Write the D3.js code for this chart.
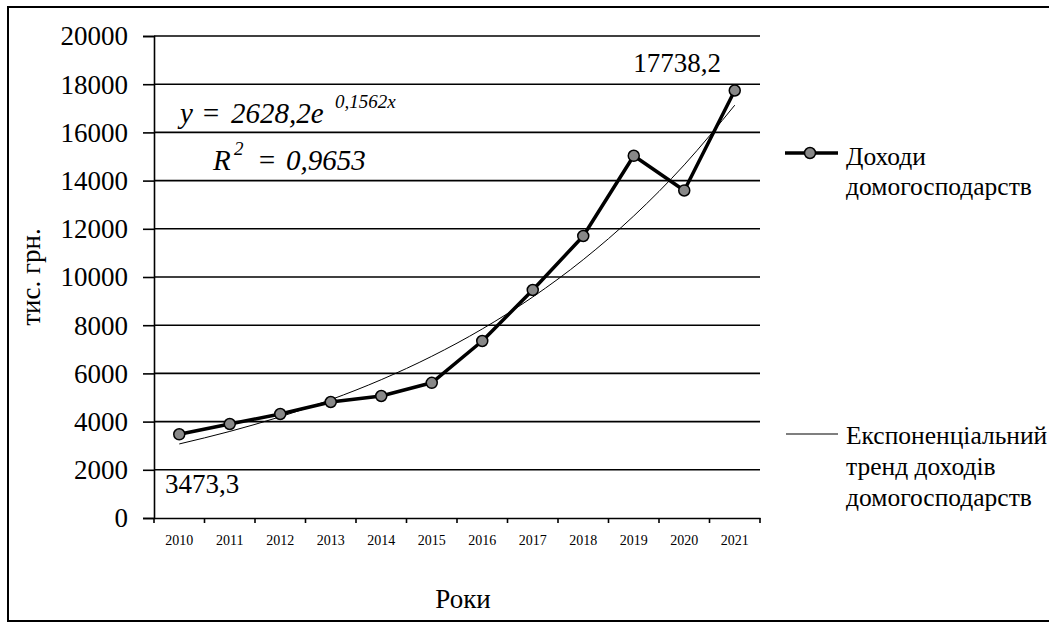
<!DOCTYPE html>
<html>
<head>
<meta charset="utf-8">
<script src="https://cdn.jsdelivr.net/npm/d3@7"></script>
<style>
  body { margin: 0; background: #fff; }
  svg { display: block; }
</style>
</head>
<body>
<svg id="chart" width="1049" height="624" font-family="Liberation Serif"></svg>
<script>
var years = ["2010", "2011", "2012", "2013", "2014", "2015", "2016", "2017", "2018", "2019", "2020", "2021"];
var incomes = [3473.3, 3900, 4315, 4813, 5062, 5610, 7344, 9461, 11701, 15030, 13590, 17738.2];
// exponential trend y = 2628,2e^(0,1562x), values at x = 1..12
var trendValues = [3072.6, 3592.1, 4199.4, 4909.4, 5739.4, 6709.8, 7844.2, 9170.4, 10720.9, 12533.5, 14652.5, 17129.8];
var yTicks = [0, 2000, 4000, 6000, 8000, 10000, 12000, 14000, 16000, 18000, 20000];
var labelled = [0, 11];

var FONT = "Liberation Serif";
var svg = d3.select("#chart");
var mLeft = 154, mRight = 760, mTop = 36, mBottom = 518;
var locale = d3.formatLocale({decimal: ",", thousands: "", grouping: [3], currency: ["", ""]});
var fmt = locale.format(".1f");

var x = d3.scaleBand().domain(years).range([mLeft, mRight]).padding(0);
var y = d3.scaleLinear().domain([0, 20000]).range([mBottom, mTop]);
var cx = function(d, i) { return x(years[i]) + x.bandwidth() / 2; };

function label(sel, px, py, size, str) {
  return sel.append("text").attr("x", px).attr("y", py).attr("font-family", FONT)
    .attr("font-size", size).attr("fill", "#000").text(str);
}

// outer frame
svg.append("rect").attr("x", 8).attr("y", 7).attr("width", 1060).attr("height", 614)
  .attr("fill", "none").attr("stroke", "#000").attr("stroke-width", 2);

// gridlines
svg.append("g").selectAll("line").data(yTicks.slice(1)).enter().append("line")
  .attr("x1", mLeft).attr("x2", mRight)
  .attr("y1", function(d) { return y(d); }).attr("y2", function(d) { return y(d); })
  .attr("stroke", "#000").attr("stroke-width", 1.6);

// y axis
var yAxis = svg.append("g").attr("transform", "translate(" + mLeft + ",0)")
  .call(d3.axisLeft(y).tickValues(yTicks).tickSize(11).tickPadding(15).tickFormat(d3.format("d")));
yAxis.attr("font-family", FONT).attr("font-size", 27);
yAxis.select(".domain").attr("stroke", "#000").attr("stroke-width", 1.6);
yAxis.selectAll(".tick line").attr("stroke", "#000").attr("stroke-width", 1.6);
yAxis.selectAll("text").attr("fill", "#000").attr("dy", "0.33em");

// x axis
var xAxis = svg.append("g").attr("transform", "translate(0," + mBottom + ")")
  .call(d3.axisBottom(x).tickSize(0).tickPadding(17));
xAxis.attr("font-family", FONT).attr("font-size", 14);
xAxis.select(".domain").attr("stroke", "#000").attr("stroke-width", 1.6);
xAxis.selectAll("text").attr("fill", "#000");
svg.append("g").selectAll("line").data(years.concat(["end"])).enter().append("line")
  .attr("x1", function(d, i) { return mLeft + i * x.bandwidth(); })
  .attr("x2", function(d, i) { return mLeft + i * x.bandwidth(); })
  .attr("y1", mBottom).attr("y2", mBottom + 5)
  .attr("stroke", "#000").attr("stroke-width", 1.6);

// trend line
svg.append("path").datum(trendValues)
  .attr("d", d3.line().x(cx).y(function(d) { return y(d); }).curve(d3.curveMonotoneX))
  .attr("fill", "none").attr("stroke", "#000").attr("stroke-width", 1);

// income line
svg.append("path").datum(incomes)
  .attr("d", d3.line().x(cx).y(function(d) { return y(d); }))
  .attr("fill", "none").attr("stroke", "#000").attr("stroke-width", 3.5)
  .attr("stroke-linejoin", "round");
svg.append("g").selectAll("circle").data(incomes).enter().append("circle")
  .attr("cx", cx).attr("cy", function(d) { return y(d); }).attr("r", 5.5)
  .attr("fill", "#888").attr("stroke", "#000").attr("stroke-width", 1.5);

// data labels
label(svg, 165, 493, 27, fmt(incomes[labelled[0]]));
label(svg, 677, 72, 27, fmt(incomes[labelled[1]])).attr("text-anchor", "middle");

// equation
var eqG = svg.append("g").attr("font-style", "italic");
label(eqG, 180, 123, 29, "y");
label(eqG, 201, 123, 29, "=");
label(eqG, 231, 123, 29, "2628,2e");
label(eqG, 335, 108, 19, "0,1562x");
label(eqG, 213, 170, 29, "R");
label(eqG, 234, 155, 19, "2");
label(eqG, 257, 170, 29, "=");
label(eqG, 286, 170, 29, "0,9653");

// axis titles
label(svg, 0, 0, 27, "тис. грн.").attr("transform", "translate(40,277) rotate(-90)")
  .attr("text-anchor", "middle");
label(svg, 463, 608, 27, "Роки").attr("text-anchor", "middle");

// legend
var lg = svg.append("g");
lg.append("line").attr("x1", 785).attr("x2", 838).attr("y1", 153).attr("y2", 153)
  .attr("stroke", "#000").attr("stroke-width", 3.5);
lg.append("circle").attr("cx", 810).attr("cy", 153).attr("r", 5.5)
  .attr("fill", "#888").attr("stroke", "#000").attr("stroke-width", 1.5);
label(lg, 846, 165, 25.5, "Доходи");
label(lg, 846, 195, 25.5, "домогосподарств");
lg.append("line").attr("x1", 786).attr("x2", 838).attr("y1", 434).attr("y2", 434)
  .attr("stroke", "#000").attr("stroke-width", 1.2);
label(lg, 846, 444, 25.5, "Експоненціальний");
label(lg, 846, 475, 25.5, "тренд доходів");
label(lg, 846, 506, 25.5, "домогосподарств");
</script>
</body>
</html>
